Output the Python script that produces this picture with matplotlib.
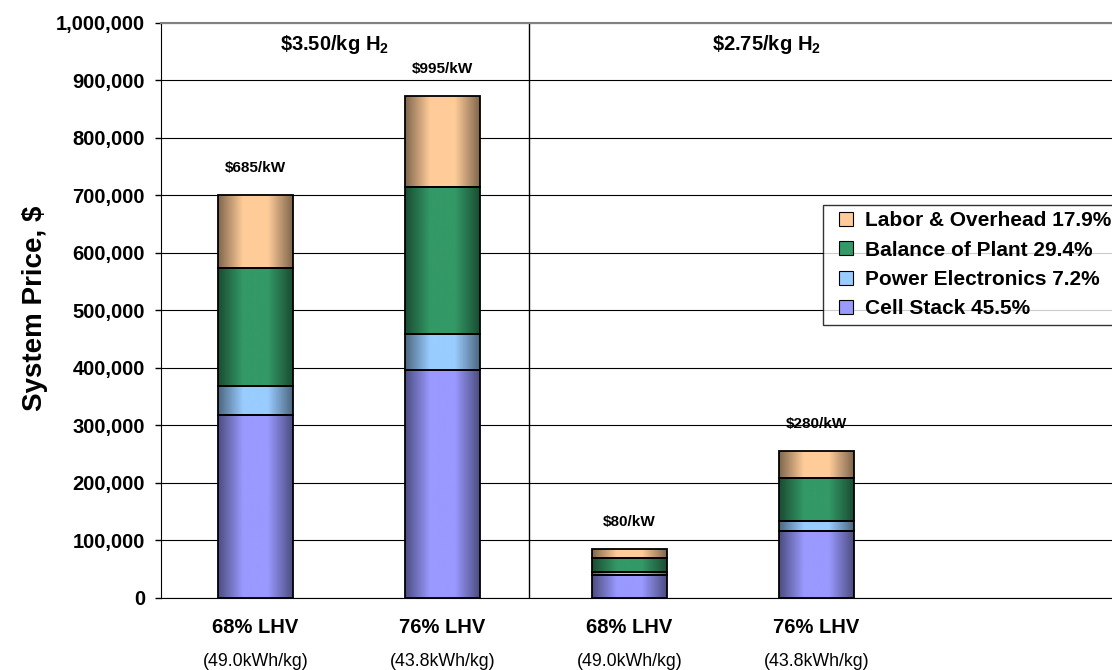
import numpy as np
import matplotlib.pyplot as plt
from matplotlib.colors import LinearSegmentedColormap, to_rgb
from matplotlib.lines import Line2D
from matplotlib.ticker import FuncFormatter

# Data
efficiency = ['68% LHV', '76% LHV', '68% LHV', '76% LHV']
energy_use = ['(49.0kWh/kg)', '(43.8kWh/kg)', '(49.0kWh/kg)', '(43.8kWh/kg)']
cell_stack = [318000, 396000, 40000, 116000]
power_electronics = [50000, 63000, 5000, 18000]
balance_of_plant = [206000, 256000, 24000, 74000]
labor_overhead = [126000, 158000, 16000, 47000]
price_labels = ['$685/kW', '$995/kW', '$80/kW', '$280/kW']
scenarios = [r'\$3.50/kg H$_{2}$', r'\$2.75/kg H$_{2}$']

series = [
    ('Cell Stack 45.5%', cell_stack, '#9999FF'),
    ('Power Electronics 7.2%', power_electronics, '#99CCFF'),
    ('Balance of Plant 29.4%', balance_of_plant, '#339966'),
    ('Labor & Overhead 17.9%', labor_overhead, '#FFCC99'),
]

plt.rcParams['font.family'] = ['Liberation Sans', 'DejaVu Sans']
plt.rcParams['mathtext.default'] = 'regular'

fig = plt.figure(figsize=(11.12, 6.70), dpi=100)
ax = fig.add_axes([0.1448, 0.1075, 0.8552, 0.8582])

x = np.arange(len(efficiency))
width = 0.40
bottom = np.zeros(len(x))


def shaded(patch, color):
    # cylinder-like shading: dark edges, light centre
    c = np.array(to_rgb(color))
    cmap = LinearSegmentedColormap.from_list('s', [c * 0.5, c, c, c * 0.5])
    bx, by = patch.get_x(), patch.get_y()
    bw, bh = patch.get_width(), patch.get_height()
    grad = np.linspace(0, 1, 256).reshape(1, -1)
    im = ax.imshow(grad, cmap=cmap, aspect='auto',
                   extent=(bx, bx + bw, by, by + bh), zorder=2)
    im.set_clip_path(patch)


handles = []
for name, vals, color in series:
    bars = ax.bar(x, vals, width, bottom=bottom, color=color,
                  edgecolor='black', linewidth=1.3, zorder=3, label=name)
    for b in bars:
        b.set_facecolor('none')
        shaded(b, color)
    handles.append(Line2D([], [], marker='s', markersize=9.5, linestyle='none',
                          markerfacecolor=color, markeredgecolor='black',
                          markeredgewidth=0.8))
    bottom += np.array(vals)

for xi, top, lab in zip(x, bottom, price_labels):
    ax.annotate(lab, (xi, top), xytext=(0, 19.5), textcoords='offset points',
                ha='center', va='center', fontsize=11, fontweight='bold')

ax.set_xlim(-0.505, 4.58)
ax.set_ylim(0, 1000000)
ax.set_yticks(np.arange(0, 1000001, 100000))
ax.yaxis.set_major_formatter(FuncFormatter(lambda v, p: f'{int(v):,}'))
ax.tick_params(axis='y', labelsize=14.5, length=4.5, width=1, pad=7)
for t in ax.get_yticklabels():
    t.set_fontweight('bold')
ax.tick_params(axis='x', length=0)
ax.set_xticks(x)
ax.set_xticklabels([''] * len(x))
for xi, e, u in zip(x, efficiency, energy_use):
    ax.text(xi, -0.052, e, transform=ax.get_xaxis_transform(), ha='center',
            va='center', fontsize=14.5, fontweight='bold')
    ax.text(xi, -0.111, u, transform=ax.get_xaxis_transform(), ha='center',
            va='center', fontsize=12.8)

ax.grid(axis='y', color='black', linewidth=0.8, zorder=0)
ax.set_axisbelow(True)
ax.spines['right'].set_visible(False)
ax.spines['top'].set_color('#808080')
ax.spines['top'].set_linewidth(1.5)
for s in ['left', 'bottom']:
    ax.spines[s].set_color('black')

# divider between price scenarios
ax.axvline(1.46, color='black', linewidth=1, zorder=1)
ax.text(0.425, 963000, scenarios[0], ha='center', va='center',
        fontsize=14.5, fontweight='bold')
ax.text(2.73, 963000, scenarios[1], ha='center', va='center',
        fontsize=14.5, fontweight='bold')

ax.set_ylabel('System Price, $', fontsize=20, fontweight='bold')
ax.yaxis.set_label_coords(-0.119, 0.503)

leg = ax.legend(handles[::-1], [s[0] for s in series][::-1],
                loc='upper left', bbox_to_anchor=(0.696, 0.6835),
                frameon=True, fancybox=False,
                prop={'weight': 'bold', 'size': 15},
                handlelength=1.6, handletextpad=0.1,
                labelspacing=0.5, borderpad=0.3, borderaxespad=0)
leg.get_frame().set_edgecolor('black')
leg.get_frame().set_linewidth(1)
leg.set_zorder(5)

fig.savefig('out.png', dpi=100)
